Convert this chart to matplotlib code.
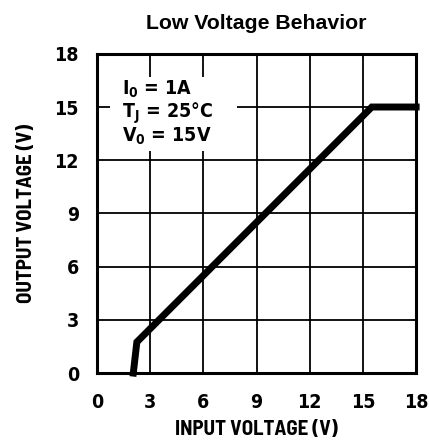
import matplotlib
matplotlib.use('Agg')
import matplotlib.pyplot as plt
from matplotlib.patches import Rectangle

# data
vin = [2.05, 2.25, 15.5, 18.0]
vout = [0.0, 1.75, 15.0, 15.0]
ticks = [0, 3, 6, 9, 12, 15, 18]
notes = ['I$_0$ = 1A', 'T$_J$ = 25°C', 'V$_0$ = 15V']

LAB = 'Barlow Semi Condensed'
cond = dict(fontfamily='DejaVu Sans', fontstretch='condensed', fontweight='bold')
plt.rcParams['mathtext.fontset'] = 'custom'
for k in ('rm', 'it', 'bf'):
    plt.rcParams['mathtext.' + k] = 'DejaVu Sans:weight=bold:stretch=condensed'

fig = plt.figure(figsize=(4.29, 4.41), dpi=100)
ax = fig.add_axes([0.226, 0.154, 0.744, 0.724])

ax.set_xlim(0, 18)
ax.set_ylim(0, 18)
ax.set_xticks(ticks)
ax.set_yticks(ticks)
ax.grid(True, color='black', lw=1.3, zorder=1)
ax.tick_params(axis='x', length=0, pad=14)
ax.tick_params(axis='y', length=0, pad=13)
for lab in ax.get_xticklabels() + ax.get_yticklabels():
    lab.set_fontfamily('DejaVu Sans')
    lab.set_fontstretch('condensed')
    lab.set_fontweight('bold')
    lab.set_fontsize(14)
for s in ax.spines.values():
    s.set_linewidth(2.2)
    s.set_zorder(5)

# white area behind the conditions text
ax.add_patch(Rectangle((0.75, 12.5), 7.15, 4.2, fc='white', ec='none', zorder=2))
for i, t in enumerate(notes):
    ax.text(1.4, 16.0 - 1.33 * i, t, fontsize=14, va='center', ha='left', zorder=3, **cond)

ax.plot(vin, vout, color='black', lw=5, solid_joinstyle='miter', zorder=4, clip_on=False)

ax.set_xlabel('INPUT VOLTAGE (V)', fontsize=15, labelpad=6, fontfamily=LAB, fontweight='bold')
ax.set_ylabel('OUTPUT VOLTAGE (V)', fontsize=15, labelpad=13.5, fontfamily=LAB, fontweight='bold')
ax.set_title('Low Voltage Behavior', fontfamily='Liberation Sans', fontweight='bold', fontsize=15.3, pad=18)

fig.savefig('out.png', dpi=100)
